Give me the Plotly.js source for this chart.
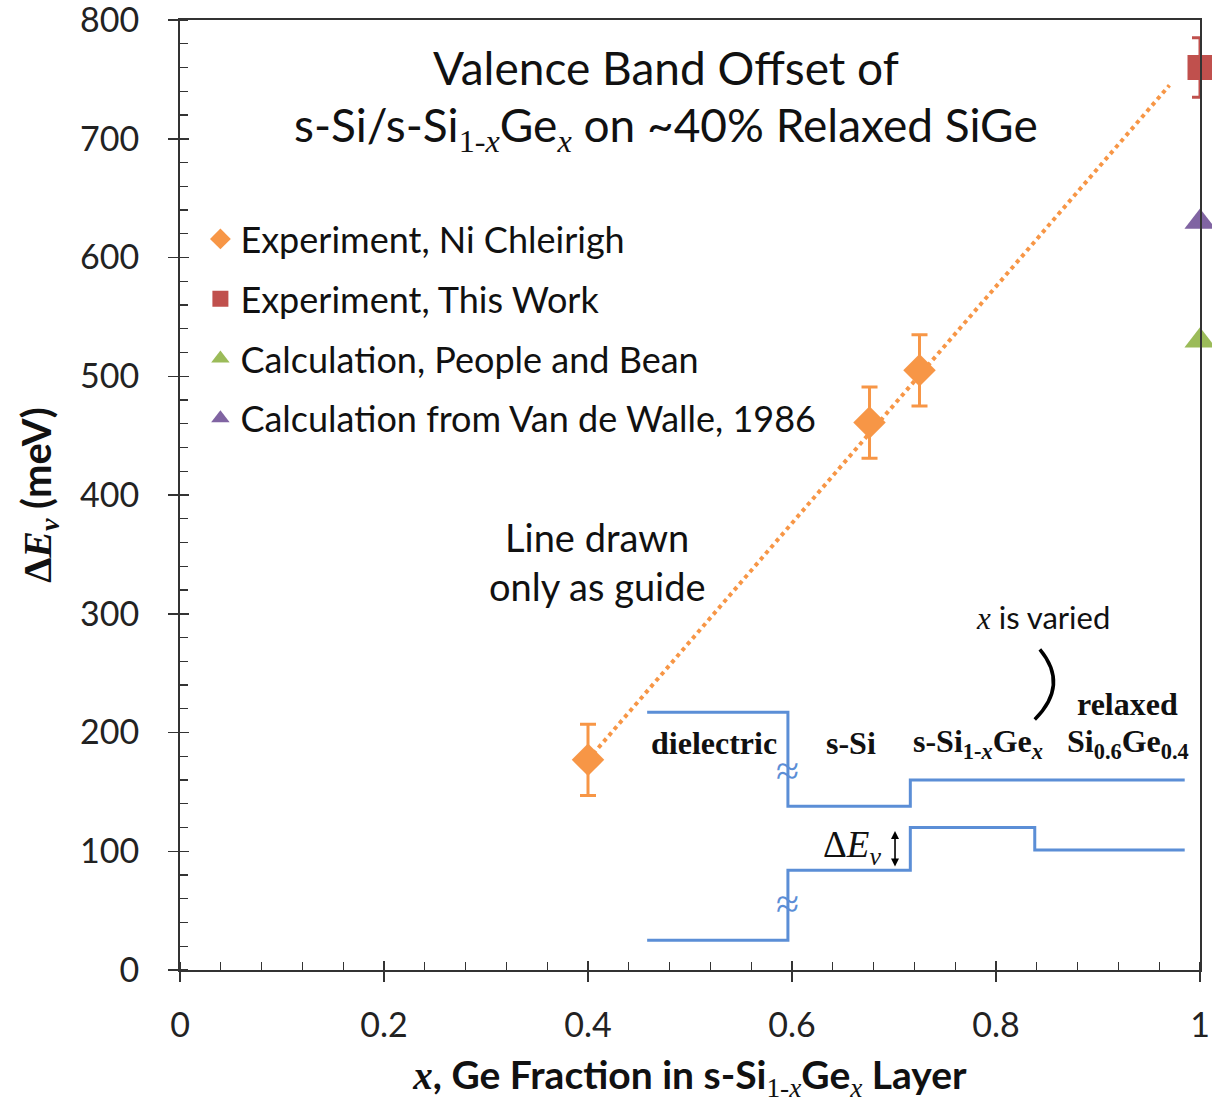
<!DOCTYPE html>
<html>
<head>
<meta charset="utf-8">
<script src="https://cdn.plot.ly/plotly-3.0.1.min.js"></script>
<style>html,body{margin:0;padding:0;background:#fff;}#chart{width:1212px;height:1103px;}</style>
</head>
<body>
<div id="chart"></div>
<script>
// ---- data ----
const niX = [0.40, 0.676, 0.725];
const niY = [177, 461, 505];
const niErr = [30, 30, 30];

const thisX = [1.0];
const thisY = [760];
const thisErr = [25];

const peopleX = [1.0];
const peopleY = [530];

const vdwX = [1.0];
const vdwY = [630];

const guideX = [0.40, 0.97];
const guideY = [177, 745];

// schematic band diagram (inset)
const condX = [0.458, 0.596, 0.596, 0.716, 0.716, 0.985];
const condY = [217, 217, 138, 138, 160, 160];
const valX = [0.458, 0.596, 0.596, 0.716, 0.716, 0.838, 0.838, 0.985];
const valY = [25, 25, 84, 84, 120, 120, 101, 101];

const xTicks = [0, 0.2, 0.4, 0.6, 0.8, 1];
const xTickText = ['0', '0.2', '0.4', '0.6', '0.8', '1'];
const yTicks = [0, 100, 200, 300, 400, 500, 600, 700, 800];
const yTickText = ['0', '100', '200', '300', '400', '500', '600', '700', '800'];

const names = ['Experiment, Ni Chleirigh', 'Experiment, This Work',
  'Calculation, People and Bean', 'Calculation from Van de Walle, 1986'];

const ORANGE = '#F79646', RED = '#C0504D', GREEN = '#9BBB59', PURPLE = '#8064A2', BLUE = '#5B8ED6';
const SANS = 'Lato, "Open Sans", sans-serif';
const SERIF = '"Liberation Serif", "DejaVu Serif", serif';
const SI = (t) => '<span style="font-family:Liberation Serif;font-weight:normal">' + t + '</span>';

const traces = [
  {x: guideX, y: guideY, mode: 'lines', line: {color: ORANGE, width: 4, dash: 'dot'}, showlegend: false, hoverinfo: 'skip'},
  {x: condX, y: condY, mode: 'lines', line: {color: BLUE, width: 3}, showlegend: false, hoverinfo: 'skip'},
  {x: valX, y: valY, mode: 'lines', line: {color: BLUE, width: 3}, showlegend: false, hoverinfo: 'skip'},
  {x: niX, y: niY, name: names[0], legendgroup: 'a', mode: 'markers', cliponaxis: false,
   marker: {symbol: 'diamond', size: 25, color: ORANGE},
   error_y: {type: 'data', array: niErr, visible: true, color: ORANGE, thickness: 3, width: 8}},
  {x: thisX, y: thisY, name: names[1], legendgroup: 'b', mode: 'markers', cliponaxis: false,
   marker: {symbol: 'square', size: 25, color: RED},
   error_y: {type: 'data', array: thisErr, visible: true, color: RED, thickness: 3, width: 8}},
  {x: peopleX, y: peopleY, name: names[2], legendgroup: 'c', mode: 'markers', cliponaxis: false,
   marker: {symbol: 'triangle-up', size: 27, color: GREEN}},
  {x: vdwX, y: vdwY, name: names[3], legendgroup: 'd', mode: 'markers', cliponaxis: false,
   marker: {symbol: 'triangle-up', size: 27, color: PURPLE}},
  // invisible trace to draw the inner half of the major ticks
  {x: [0, 1], y: [0, 800], xaxis: 'x2', yaxis: 'y2', mode: 'markers', marker: {opacity: 0}, showlegend: false, hoverinfo: 'skip'}
];

const AX = '#333333';
const annFont = {family: SERIF, size: 32, color: '#111'};
const annotations = [
  {x: 0.476, y: 760, xref: 'x', yref: 'y', text: 'Valence Band Offset of', showarrow: false,
   font: {family: SANS, size: 46, color: '#111'}},
  {x: 0.476, y: 709, xref: 'x', yref: 'y', text: 's-Si/s-Si<sub>' + SI('1-<i>x</i>') + '</sub>Ge<sub>' + SI('<i>x</i>') + '</sub> on ~40% Relaxed SiGe', showarrow: false,
   font: {family: SANS, size: 46, color: '#111'}},
  {x: 0.409, y: 365, text: 'Line drawn', showarrow: false, font: {family: SANS, size: 38, color: '#111'}},
  {x: 0.409, y: 323, text: 'only as guide', showarrow: false, font: {family: SANS, size: 38, color: '#111'}},
  {x: 0.524, y: 191, text: '<b>dielectric</b>', showarrow: false, font: annFont},
  {x: 0.658, y: 191, text: '<b>s-Si</b>', showarrow: false, font: annFont},
  {x: 0.782, y: 191, text: '<b>s-Si<sub>1-<i>x</i></sub>Ge<sub><i>x</i></sub></b>', showarrow: false, font: annFont},
  {x: 0.929, y: 224, text: '<b>relaxed</b>', showarrow: false, font: annFont},
  {x: 0.929, y: 191, text: '<b>Si<sub>0.6</sub>Ge<sub>0.4</sub></b>', showarrow: false, font: annFont},
  {x: 0.846, y: 297, text: '<i style="font-family:Liberation Serif">x</i> is varied', showarrow: false,
   font: {family: SANS, size: 31, color: '#111'}},
  {x: 0.659, y: 103, text: 'Δ<i>E<sub>v</sub></i>', showarrow: false, font: {family: SERIF, size: 37, color: '#111'}},
  {x: 0.701, y: 117, ax: 0.701, ay: 86, xref: 'x', yref: 'y', axref: 'x', ayref: 'y', text: '',
   showarrow: true, arrowside: 'end+start', arrowhead: 2, arrowsize: 1, arrowwidth: 1.6, arrowcolor: '#000'},
  {x: 0.596, y: 168, text: '≈', showarrow: false, font: {family: SERIF, size: 42, color: BLUE}},
  {x: 0.596, y: 56, text: '≈', showarrow: false, font: {family: SERIF, size: 42, color: BLUE}}
];

const layout = {
  width: 1212, height: 1103,
  margin: {l: 180, r: 12, t: 20, b: 133},
  paper_bgcolor: '#fff', plot_bgcolor: '#fff',
  showlegend: true,
  legend: {x: 0.020, y: 0.801, xanchor: 'left', yanchor: 'top', bgcolor: 'rgba(0,0,0,0)',
    font: {family: SANS, size: 36, color: '#111'}, traceorder: 'grouped', tracegroupgap: 10,
    itemsizing: 'trace'},
  xaxis: {range: [0, 1], tickvals: xTicks, ticktext: xTickText, showgrid: false, zeroline: false,
    showline: true, linecolor: AX, linewidth: 2, mirror: true,
    ticks: 'outside', ticklen: 10, tickwidth: 1.5, tickcolor: AX,
    minor: {dtick: 0.04, ticks: 'inside', ticklen: 8, tickwidth: 1.2, tickcolor: AX},
    tickfont: {family: SANS, size: 34, color: '#222'}, ticklabelstandoff: 14, ticklabeloverflow: 'allow',
    title: {text: '<b><i style="font-family:Liberation Serif">x</i>, Ge Fraction in s-Si<sub>' + SI('1-<i>x</i>') + '</sub>Ge<sub>' + SI('<i>x</i>') + '</sub> Layer</b>',
      font: {family: SANS, size: 39, color: '#111'}, standoff: 22}},
  yaxis: {range: [0, 800], tickvals: yTicks, ticktext: yTickText, showgrid: false, zeroline: false,
    showline: true, linecolor: AX, linewidth: 2, mirror: true,
    ticks: 'outside', ticklen: 10, tickwidth: 1.5, tickcolor: AX,
    minor: {dtick: 20, ticks: 'inside', ticklen: 8, tickwidth: 1.2, tickcolor: AX},
    tickfont: {family: SANS, size: 34, color: '#222'}, ticklabelstandoff: 22, ticklabeloverflow: 'allow',
    title: {text: '<b><span style="font-family:Liberation Serif">Δ<i>E<sub>v</sub></i></span> (meV)</b>',
      font: {family: SANS, size: 40, color: '#111'}, standoff: 16}},
  xaxis2: {overlaying: 'x', matches: 'x', anchor: 'y2', side: 'bottom', range: [0, 1], tickvals: xTicks,
    showticklabels: false, showgrid: false, zeroline: false, showline: false,
    ticks: 'inside', ticklen: 9, tickwidth: 1.5, tickcolor: AX},
  yaxis2: {overlaying: 'y', matches: 'y', anchor: 'x2', side: 'left', range: [0, 800], tickvals: yTicks,
    showticklabels: false, showgrid: false, zeroline: false, showline: false,
    ticks: 'inside', ticklen: 9, tickwidth: 1.5, tickcolor: AX},
  shapes: [
    {type: 'path', xref: 'x', yref: 'y', path: 'M 0.843 270 Q 0.872 240 0.838 211',
     line: {color: '#000', width: 3.5}}
  ],
  annotations: annotations
};

Plotly.newPlot('chart', traces, layout, {displayModeBar: false, staticPlot: true});
</script>
</body>
</html>
